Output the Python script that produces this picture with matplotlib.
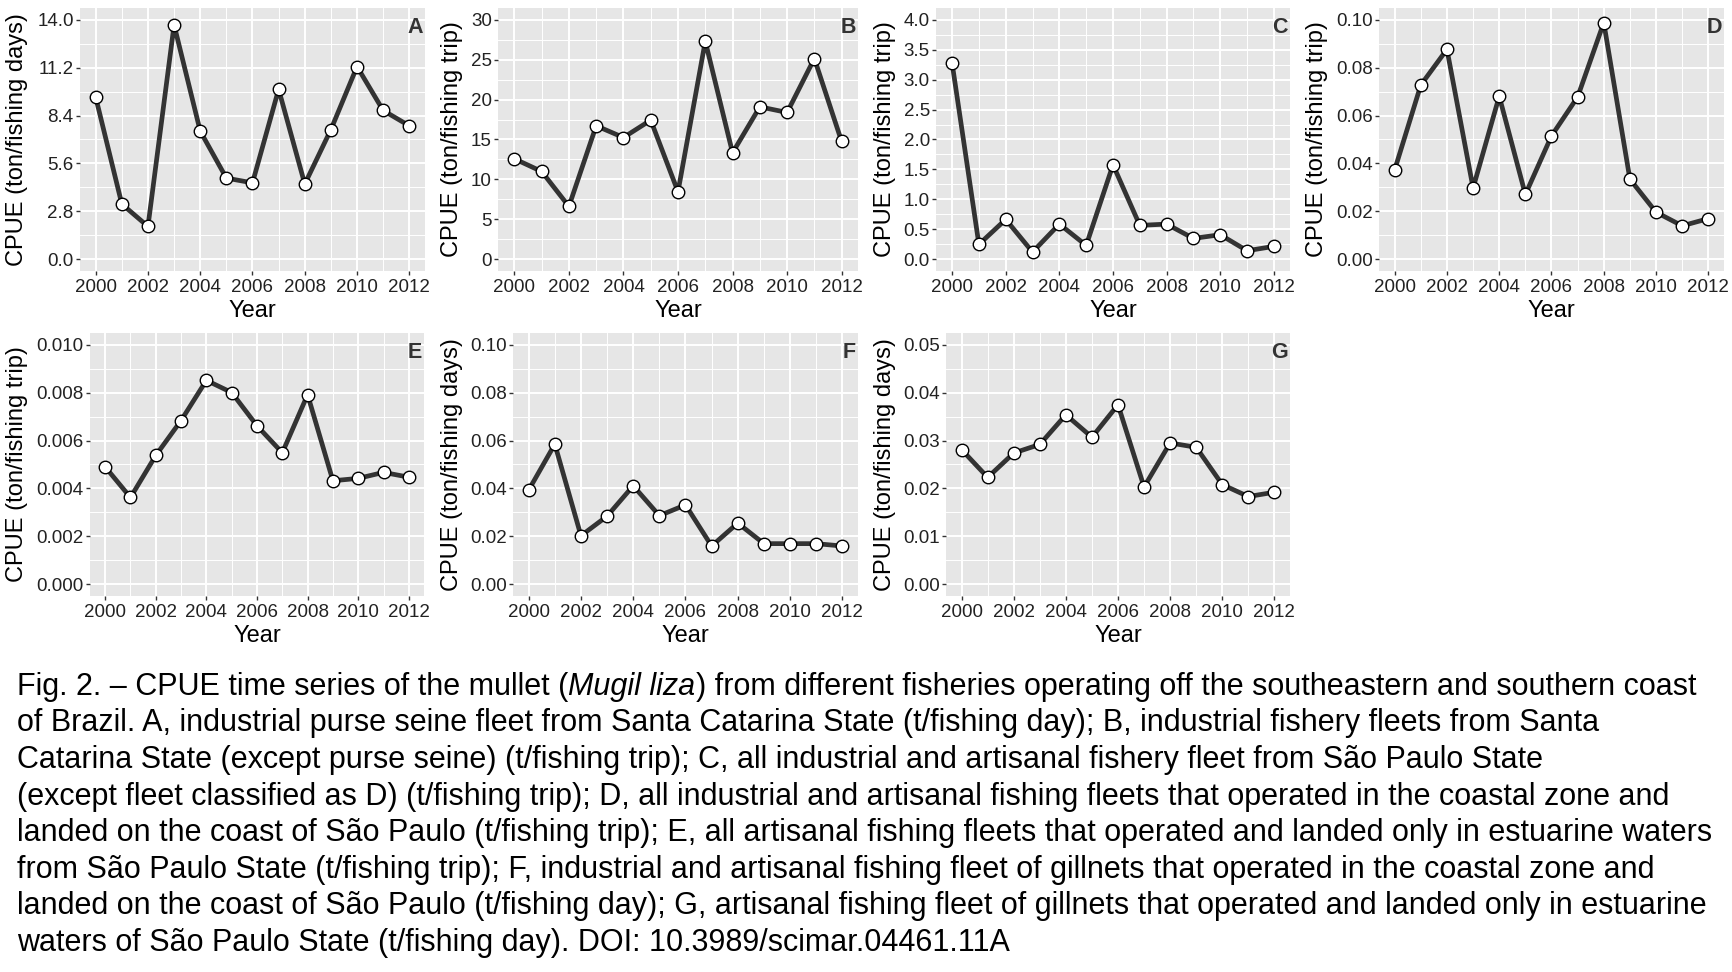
import matplotlib
matplotlib.use("Agg")
import matplotlib.pyplot as plt
from matplotlib.ticker import FixedLocator
import numpy as np

plt.rcParams['font.family'] = ['Liberation Sans', 'DejaVu Sans']

years = list(range(2000, 2013))

cpue_A = [9.48, 3.22, 1.91, 13.71, 7.49, 4.74, 4.46, 9.94, 4.39, 7.58, 11.27, 8.70, 7.80]
cpue_B = [12.58, 10.99, 6.60, 16.72, 15.25, 17.43, 8.44, 27.33, 13.33, 19.10, 18.39, 25.16, 14.75]
cpue_C = [3.28, 0.245, 0.663, 0.117, 0.585, 0.228, 1.577, 0.563, 0.585, 0.345, 0.407, 0.139, 0.212]
cpue_D = [0.0373, 0.0728, 0.0877, 0.0297, 0.0681, 0.0270, 0.0515, 0.0678, 0.0989, 0.0334, 0.0196, 0.0139, 0.0169]
cpue_E = [0.00490, 0.00362, 0.00538, 0.00684, 0.00852, 0.00801, 0.00662, 0.00549, 0.00792, 0.00432, 0.00442, 0.00467, 0.00447]
cpue_F = [0.0393, 0.0585, 0.0202, 0.0284, 0.0411, 0.0286, 0.0331, 0.0159, 0.0255, 0.0169, 0.0169, 0.0169, 0.0159]
cpue_G = [0.0281, 0.0223, 0.0274, 0.0292, 0.0354, 0.0307, 0.0375, 0.0203, 0.0295, 0.0286, 0.0208, 0.0183, 0.0192]

panel_letters = ['A', 'B', 'C', 'D', 'E', 'F', 'G']
ylabels = ['CPUE (ton/fishing days)', 'CPUE (ton/fishing trip)', 'CPUE (ton/fishing trip)',
           'CPUE (ton/fishing trip)', 'CPUE (ton/fishing trip)', 'CPUE (ton/fishing days)',
           'CPUE (ton/fishing days)']
yticks_A = [0.0, 2.8, 5.6, 8.4, 11.2, 14.0]
yticks_B = [0, 5, 10, 15, 20, 25, 30]
yticks_C = [0.0, 0.5, 1.0, 1.5, 2.0, 2.5, 3.0, 3.5, 4.0]
yticks_D = [0.00, 0.02, 0.04, 0.06, 0.08, 0.10]
yticks_E = [0.000, 0.002, 0.004, 0.006, 0.008, 0.010]
yticks_F = [0.00, 0.02, 0.04, 0.06, 0.08, 0.10]
yticks_G = [0.00, 0.01, 0.02, 0.03, 0.04, 0.05]
ytick_fmt = ['{:.1f}', '{:.0f}', '{:.1f}', '{:.2f}', '{:.3f}', '{:.2f}', '{:.2f}']
xticks = [2000, 2002, 2004, 2006, 2008, 2010, 2012]
xlabel = 'Year'

caption_lines = [
    ("Fig. 2. \u2013 CPUE time series of the mullet (", "Mugil liza", ") from different fisheries operating off the southeastern and southern coast"),
    ("of Brazil. A, industrial purse seine fleet from Santa Catarina State (t/fishing day); B, industrial fishery fleets from Santa",),
    ("Catarina State (except purse seine) (t/fishing trip); C, all industrial and artisanal fishery fleet from S\u00e3o Paulo State",),
    ("(except fleet classified as D) (t/fishing trip); D, all industrial and artisanal fishing fleets that operated in the coastal zone and",),
    ("landed on the coast of S\u00e3o Paulo (t/fishing trip); E, all artisanal fishing fleets that operated and landed only in estuarine waters",),
    ("from S\u00e3o Paulo State (t/fishing trip); F, industrial and artisanal fishing fleet of gillnets that operated in the coastal zone and",),
    ("landed on the coast of S\u00e3o Paulo (t/fishing day); G, artisanal fishing fleet of gillnets that operated and landed only in estuarine",),
    ("waters of S\u00e3o Paulo State (t/fishing day). DOI: 10.3989/scimar.04461.11A",),
]

series = [cpue_A, cpue_B, cpue_C, cpue_D, cpue_E, cpue_F, cpue_G]
yticks_all = [yticks_A, yticks_B, yticks_C, yticks_D, yticks_E, yticks_F, yticks_G]

W, H = 1732, 972
fig = plt.figure(figsize=(W / 100, H / 100), dpi=100)
fig.patch.set_facecolor('white')

# axes boxes in pixels: left, top, right, bottom ; ylabel x center
boxes = [(80, 8, 425, 271, 17), (498, 8, 858, 271, 452), (936, 8, 1290, 271, 885),
         (1379, 8, 1724, 271, 1317),
         (90, 333, 424, 596, 17), (513, 333, 858, 596, 452), (946, 333, 1290, 596, 885)]
year_baseline = [317, 317, 317, 317, 642, 642, 642]

for i, (l, t, r, b, ylx) in enumerate(boxes):
    ax = fig.add_axes([l / W, 1 - b / H, (r - l) / W, (b - t) / H])
    ax.set_facecolor('#E6E6E6')
    for s in ax.spines.values():
        s.set_visible(False)
    yt = yticks_all[i]
    ymax = yt[-1]
    ax.set_xlim(2000 - 0.6, 2012 + 0.6)
    ax.set_ylim(-0.05 * ymax, ymax * 1.05)
    ax.xaxis.set_major_locator(FixedLocator(xticks))
    ax.xaxis.set_minor_locator(FixedLocator([2001, 2003, 2005, 2007, 2009, 2011]))
    ax.yaxis.set_major_locator(FixedLocator(yt))
    step = yt[1] - yt[0]
    ax.yaxis.set_minor_locator(FixedLocator([v + step / 2 for v in yt[:-1]] + [yt[-1] + step / 2, yt[0] - step / 2]))
    ax.set_yticklabels([ytick_fmt[i].format(v) for v in yt])
    ax.set_xticklabels([str(v) for v in xticks])
    ax.grid(which='major', color='white', linewidth=1.4)
    ax.grid(which='minor', color='white', linewidth=0.7)
    ax.set_axisbelow(True)
    ax.tick_params(which='major', length=3, width=1.0, color='#333333', labelsize=13.5,
                   labelcolor='#222222', pad=1.5)
    ax.tick_params(which='minor', length=0)
    ax.tick_params(axis='x', pad=3)
    ax.plot(years, series[i], color='#333333', linewidth=3.4, zorder=3,
            solid_joinstyle='round')
    ax.plot(years, series[i], linestyle='none', marker='o', markersize=9,
            markerfacecolor='white', markeredgecolor='black', markeredgewidth=1.0, zorder=4)
    ax.text(0.994, 0.966, panel_letters[i], transform=ax.transAxes, ha='right', va='top',
            fontsize=15.5, fontweight='bold', color='#333333')
    fig.text(ylx / W, 1 - ((t + b) / 2) / H, ylabels[i], rotation=90, ha='center', va='center',
             fontsize=17, color='black')
    fig.text(((l + r) / 2) / W, 1 - year_baseline[i] / H, xlabel, ha='center', va='baseline',
             fontsize=17, color='black')

# caption
renderer = fig.canvas.get_renderer()
x0 = 17
base0 = 695
spacing = 36.5
cap_fs = 22.0
for k, parts in enumerate(caption_lines):
    y = 1 - (base0 + k * spacing) / H
    x = x0
    for j, part in enumerate(parts):
        style = 'italic' if (len(parts) == 3 and j == 1) else 'normal'
        txt = fig.text(x / W, y, part, ha='left', va='baseline', fontsize=cap_fs,
                       fontstyle=style, color='black')
        bb = txt.get_window_extent(renderer=renderer)
        x = x + bb.width

fig.savefig('out.png', dpi=100, facecolor='white')
